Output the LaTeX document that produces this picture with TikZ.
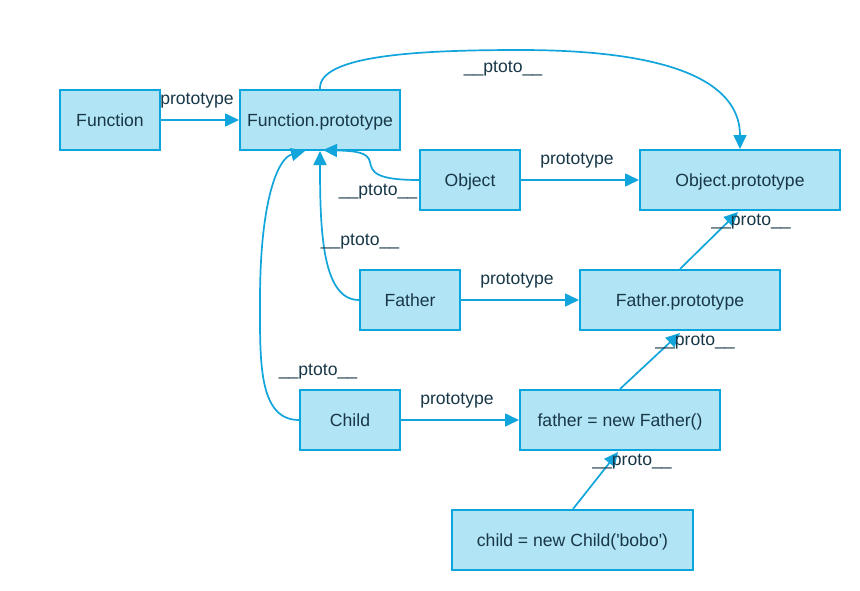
\documentclass[tikz,border=0pt]{standalone}
\usepackage{fontspec}
\setmainfont{Liberation Sans}
\usetikzlibrary{arrows.meta}
\definecolor{boxfill}{HTML}{B1E4F4}
\definecolor{boxline}{HTML}{0AA5DC}
\definecolor{edgecol}{HTML}{12A5DC}
\definecolor{txt}{HTML}{183848}
\begin{document}
\begin{tikzpicture}[x=1pt,y=-1pt,
  every node/.style={font=\fontsize{17.6}{21}\selectfont, text=txt},
  box/.style={draw=boxline, fill=boxfill, line width=2pt, minimum height=60pt, inner sep=0pt, text height=12.6pt, text depth=0pt},
  lbl/.style={inner sep=0pt, anchor=base},
  conn/.style={draw=edgecol, line width=1.7pt, -{Triangle[length=14pt,width=13pt]}}
]
\useasboundingbox[fill=white] (0,0) rectangle (860,590);

\node[box, minimum width=100pt] (fn) at (110,120) {Function};
\node[box, minimum width=160pt] (fp) at (320,120) {Function.prototype};
\node[box, minimum width=100pt] (obj) at (470,180) {Object};
\node[box, minimum width=200pt] (op) at (740,180) {Object.prototype};
\node[box, minimum width=100pt] (fa) at (410,300) {Father};
\node[box, minimum width=200pt] (fap) at (680,300) {Father.prototype};
\node[box, minimum width=100pt] (ch) at (350,420) {Child};
\node[box, minimum width=200pt] (fnew) at (620,420) {father = new Father()};
\node[box, minimum width=241pt] (cnew) at (572.5,540) {child = new Child(\textquotesingle bobo\textquotesingle)};

% prototype edges
\draw[conn] (fn.east) -- (fp.west);
\draw[conn] (obj.east) -- (op.west);
\draw[conn] (fa.east) -- (fap.west);
\draw[conn] (ch.east) -- (fnew.west);

% __proto__ edges
\draw[conn] ([xshift=0pt]fap.north) -- ([xshift=-2pt,yshift=-1pt]op.south);
\draw[conn] (fnew.north) -- ([yshift=-2pt]fap.south);
\draw[conn] ([xshift=0.5pt]cnew.north) -- ([xshift=-2pt,yshift=-1pt]fnew.south);

% __ptoto__ edges
\draw[conn] (fp.north) .. controls (318,55) and (420,50) .. (520,50)
  .. controls (690,50) and (740,90) .. (op.north);
\draw[conn] (obj.west) .. controls (375,180) and (372,172) .. (370,162)
  .. controls (368,152) and (355,151) .. ([xshift=3pt,yshift=1pt]fp.south);
\draw[conn] (fa.west) .. controls (322,300) and (320,230) .. (fp.south);
\draw[conn] (ch.west) .. controls (258,420) and (260,360) .. (260,300)
  .. controls (260,200) and (278,158) .. ([xshift=-15pt]fp.south);

% labels
\node[lbl] (l1) at (197,104) {prototype};
\node[lbl] (l2) at (503,72) {\_\_ptoto\_\_};
\node[lbl] (l3) at (378,195) {\_\_ptoto\_\_};
\node[lbl] (l4) at (360,245) {\_\_ptoto\_\_};
\node[lbl] (l5) at (318,375) {\_\_ptoto\_\_};
\node[lbl] (l6) at (577,164) {prototype};
\node[lbl] (l7) at (751,225) {\_\_proto\_\_};
\node[lbl] (l8) at (517,284) {prototype};
\node[lbl] (l9) at (695,345) {\_\_proto\_\_};
\node[lbl] (l10) at (457,404) {prototype};
\node[lbl] (l11) at (632,465) {\_\_proto\_\_};
\end{tikzpicture}
\end{document}
